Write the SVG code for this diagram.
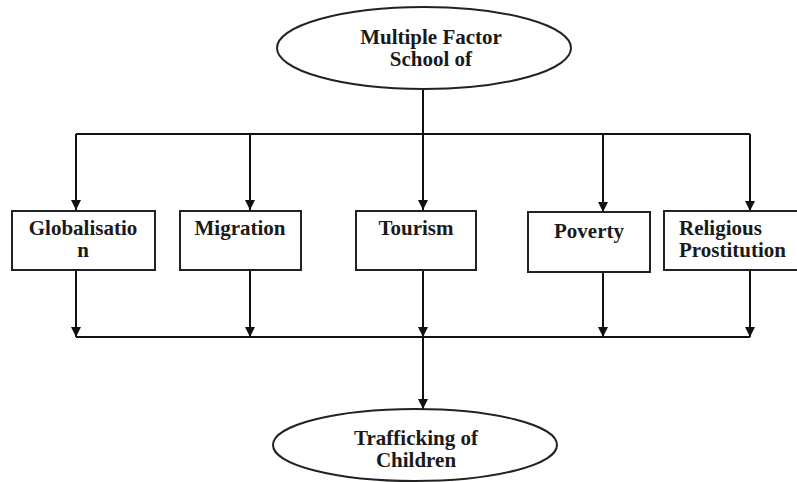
<svg xmlns="http://www.w3.org/2000/svg" width="797" height="482" viewBox="0 0 797 482">
<style>
  .shape { fill: #fff; stroke: #222; stroke-width: 2; }
  .conn { fill: none; stroke: #111; stroke-width: 2; }
  .lbl { font-weight: bold; font-size: 21px; fill: #1a1a1a; }
  .c { text-anchor: middle; }
</style>
<defs>
  <marker id="arr" viewBox="0 0 10 10" refX="10" refY="5" markerWidth="10" markerHeight="10" markerUnits="userSpaceOnUse" orient="auto">
    <path d="M0,0 L10,5 L0,10 Z" fill="#111"/>
  </marker>
</defs>
<rect width="797" height="482" fill="#fff"/>

<g id="connectors">
  <path class="conn" d="M423,90 V134"/>
  <path class="conn" d="M76,134 H750"/>
  <path class="conn" d="M76,134 V210" marker-end="url(#arr)"/>
  <path class="conn" d="M250,134 V210" marker-end="url(#arr)"/>
  <path class="conn" d="M423,134 V210" marker-end="url(#arr)"/>
  <path class="conn" d="M603,134 V212" marker-end="url(#arr)"/>
  <path class="conn" d="M750,134 V211" marker-end="url(#arr)"/>
  <path class="conn" d="M76,270 V337" marker-end="url(#arr)"/>
  <path class="conn" d="M250,270 V337" marker-end="url(#arr)"/>
  <path class="conn" d="M423,270 V337" marker-end="url(#arr)"/>
  <path class="conn" d="M603,272 V337" marker-end="url(#arr)"/>
  <path class="conn" d="M750,270 V337" marker-end="url(#arr)"/>
  <path class="conn" d="M76,337 H750"/>
  <path class="conn" d="M423,337 V409" marker-end="url(#arr)"/>
</g>

<g font-family="'Liberation Serif', 'DejaVu Serif', serif">
<g id="school">
  <ellipse class="shape" cx="424" cy="48" rx="147" ry="41"/>
  <text class="lbl c" x="431" y="44">Multiple Factor</text>
  <text class="lbl c" x="431" y="66">School of</text>
</g>

<g id="globalisation">
  <rect class="shape" x="12" y="211" width="143" height="59"/>
  <text class="lbl c" x="83" y="235">Globalisatio</text>
  <text class="lbl c" x="83" y="257">n</text>
</g>

<g id="migration">
  <rect class="shape" x="180" y="211" width="121" height="59"/>
  <text class="lbl c" x="240" y="235">Migration</text>
</g>

<g id="tourism">
  <rect class="shape" x="356" y="211" width="120" height="59"/>
  <text class="lbl c" x="416" y="235">Tourism</text>
</g>

<g id="poverty">
  <rect class="shape" x="528" y="212" width="122" height="60"/>
  <text class="lbl c" x="589" y="238">Poverty</text>
</g>

<g id="religious">
  <rect class="shape" x="664" y="211" width="140" height="59"/>
  <text class="lbl" x="679" y="235">Religious</text>
  <text class="lbl" x="679" y="257">Prostitution</text>
</g>

<g id="trafficking">
  <ellipse class="shape" cx="415" cy="445" rx="142" ry="36"/>
  <text class="lbl c" x="416" y="445">Trafficking of</text>
  <text class="lbl c" x="416" y="467">Children</text>
</g>
</g>
</svg>
